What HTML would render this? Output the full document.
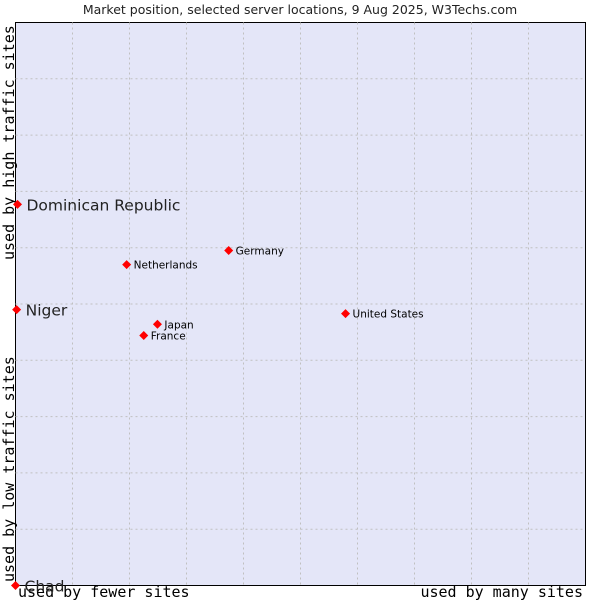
<!DOCTYPE html>
<html><head><meta charset="utf-8"><style>body{margin:0;background:#fff}svg{display:block}</style></head>
<body>
<svg id="chart" width="600" height="600" xmlns="http://www.w3.org/2000/svg">
<text x="300" y="14" text-anchor="middle" font-family="DejaVu Sans, sans-serif" font-size="12.5" fill="#222">Market position, selected server locations, 9 Aug 2025, W3Techs.com</text>
<rect x="15.5" y="22.5" width="570" height="563" fill="#e4e6f8" stroke="#000" stroke-width="1"/>
<g id="grid"></g>
<text transform="translate(14,260) rotate(-90)" font-family="DejaVu Sans Mono, monospace" font-size="15" fill="#000">used by high traffic sites</text>
<text transform="translate(14,582) rotate(-90)" font-family="DejaVu Sans Mono, monospace" font-size="15" fill="#000">used by low traffic sites</text>
<text x="18" y="597" font-family="DejaVu Sans Mono, monospace" font-size="15" fill="#000">used by fewer sites</text>
<text x="583" y="597" text-anchor="end" font-family="DejaVu Sans Mono, monospace" font-size="15" fill="#000">used by many sites</text>
<g id="points"></g>
</svg>
<script>
const names = ["Dominican Republic","Niger","Chad","Netherlands","Germany","United States","Japan","France"];
const xValues = [0.35,0.2,0,19.5,37.4,57.9,24.9,22.5];
const yValues = [67.7,49.0,0,57.0,59.5,48.3,46.4,44.4];
const bigLabel = [true,true,true,false,false,false,false,false];
const L=15.5,T=22.5,W=570,H=563;
const sx=v=>L+v/100*W, sy=v=>T+H-v/100*H;
const ns="http://www.w3.org/2000/svg";
const grid=document.getElementById('grid');
for(let i=1;i<10;i++){
  const v=document.createElementNS(ns,'line');
  
  
  v.setAttribute('x1',sx(i*10));v.setAttribute('x2',sx(i*10));v.setAttribute('y1',T);v.setAttribute('y2',T+H);
  v.setAttribute('stroke','#c0c0c0');v.setAttribute('stroke-dasharray','2,3');grid.appendChild(v);
  const h=document.createElementNS(ns,'line');
  
  
  h.setAttribute('y1',sy(i*10));h.setAttribute('y2',sy(i*10));h.setAttribute('x1',L);h.setAttribute('x2',L+W);
  h.setAttribute('stroke','#c0c0c0');h.setAttribute('stroke-dasharray','2,3');grid.appendChild(h);
}
const pts=document.getElementById('points');
names.forEach((n,i)=>{
  const x=sx(xValues[i]),y=sy(yValues[i]);
  const d=document.createElementNS(ns,'path');
  
  
  d.setAttribute('d',`M${x} ${y-4.5}L${x+4.5} ${y}L${x} ${y+4.5}L${x-4.5} ${y}Z`);
  d.setAttribute('fill','#f00');pts.appendChild(d);
  const t=document.createElementNS(ns,'text');
  
  
  t.setAttribute('x',x+(bigLabel[i]?9:7));
  t.setAttribute('y',y+(bigLabel[i]?6:4));
  t.setAttribute('font-family','DejaVu Sans, sans-serif');
  t.setAttribute('font-size',bigLabel[i]?'15.5':'10.5');
  t.setAttribute('fill',bigLabel[i]?'#222':'#000');
  t.textContent=n;pts.appendChild(t);
});
</script>
</body></html>
